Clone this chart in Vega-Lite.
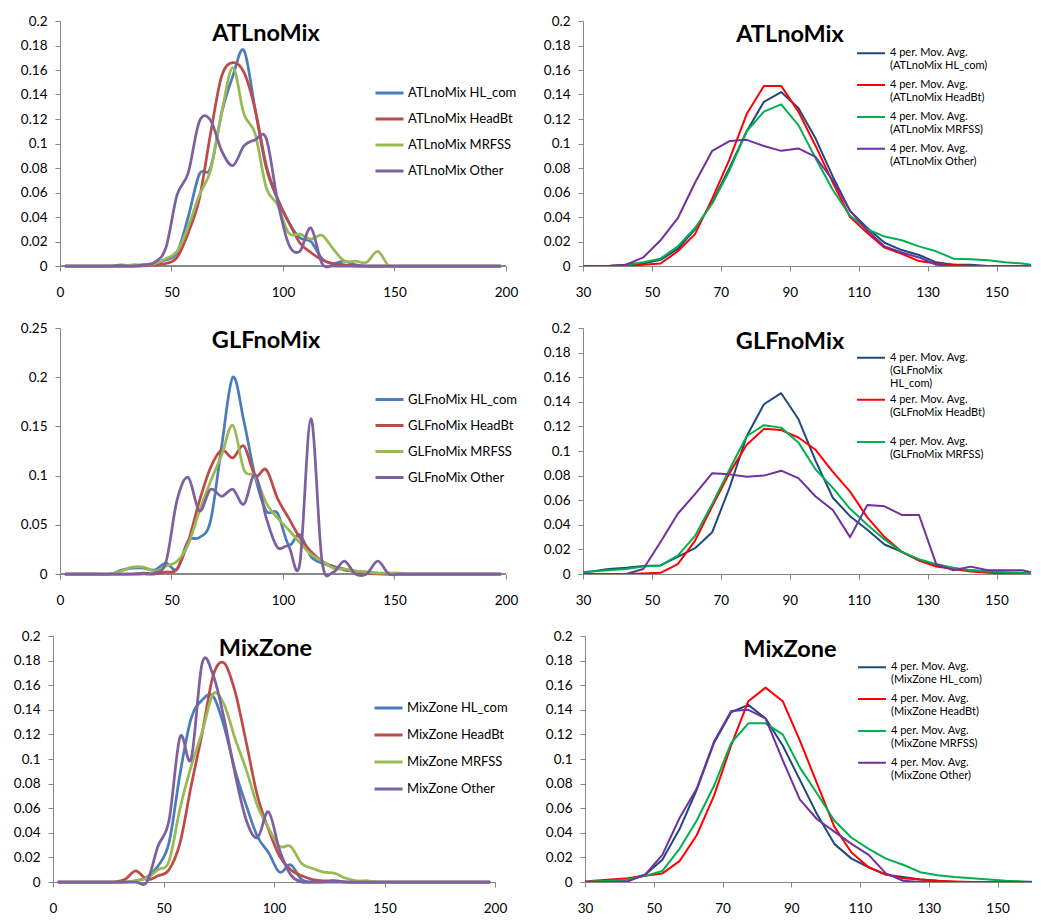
{
"$schema": "https://vega.github.io/schema/vega-lite/v6.json",
"padding": {"left": 13, "top": 14, "right": 0, "bottom": 0},
"background": "white",
"config": {
  "font": "Lato",
  "view": {"stroke": null},
  "axis": {"grid": false, "domainColor": "#868686", "tickColor": "#868686", "labelColor": "black", "labelFont": "Lato", "labelFontSize": 13.5, "tickSize": 5, "labelFlush": false, "labelOverlap": false, "domainWidth": 1, "tickWidth": 1},
  "axisX": {"labelPadding": 14},
  "axisY": {"labelPadding": 8},
  "legend": {"orient": "none", "padding": 0, "symbolType": "stroke", "labelFont": "Lato", "labelColor": "black", "labelLimit": 300},
  "title": {"font": "Lato", "fontSize": 23.5, "fontWeight": "bold", "color": "black", "anchor": "middle", "frame": "group", "baseline": "alphabetic"}
},
"datasets": {
  "atlL": [
    {"x":2.5,"HL_com":0,"HeadBt":0,"MRFSS":0,"Other":0},
    {"x":12.5,"HL_com":0,"HeadBt":0,"MRFSS":0,"Other":0},
    {"x":22.5,"HL_com":0,"HeadBt":0,"MRFSS":0,"Other":0},
    {"x":27.5,"HL_com":0.001,"HeadBt":0,"MRFSS":0,"Other":0},
    {"x":32.5,"HL_com":0,"HeadBt":0,"MRFSS":0.001,"Other":0},
    {"x":37.5,"HL_com":0.001,"HeadBt":0,"MRFSS":0.001,"Other":0.001},
    {"x":42.5,"HL_com":0.002,"HeadBt":0.001,"MRFSS":0.002,"Other":0.003},
    {"x":47.5,"HL_com":0.005,"HeadBt":0.002,"MRFSS":0.006,"Other":0.015},
    {"x":52.5,"HL_com":0.011,"HeadBt":0.007,"MRFSS":0.012,"Other":0.058},
    {"x":57.5,"HL_com":0.04,"HeadBt":0.027,"MRFSS":0.032,"Other":0.076},
    {"x":62.5,"HL_com":0.075,"HeadBt":0.055,"MRFSS":0.058,"Other":0.118},
    {"x":67.5,"HL_com":0.08,"HeadBt":0.108,"MRFSS":0.078,"Other":0.119},
    {"x":72.5,"HL_com":0.125,"HeadBt":0.155,"MRFSS":0.125,"Other":0.094},
    {"x":77.5,"HL_com":0.155,"HeadBt":0.166,"MRFSS":0.162,"Other":0.082},
    {"x":82.5,"HL_com":0.176,"HeadBt":0.158,"MRFSS":0.124,"Other":0.098},
    {"x":87.5,"HL_com":0.128,"HeadBt":0.128,"MRFSS":0.108,"Other":0.103},
    {"x":92.5,"HL_com":0.08,"HeadBt":0.082,"MRFSS":0.064,"Other":0.104},
    {"x":97.5,"HL_com":0.055,"HeadBt":0.055,"MRFSS":0.05,"Other":0.054},
    {"x":102.5,"HL_com":0.036,"HeadBt":0.036,"MRFSS":0.027,"Other":0.018},
    {"x":107.5,"HL_com":0.023,"HeadBt":0.019,"MRFSS":0.026,"Other":0.012},
    {"x":112.5,"HL_com":0.02,"HeadBt":0.011,"MRFSS":0.022,"Other":0.031},
    {"x":117.5,"HL_com":0.006,"HeadBt":0.005,"MRFSS":0.025,"Other":0.002},
    {"x":122.5,"HL_com":0.002,"HeadBt":0.002,"MRFSS":0.014,"Other":0},
    {"x":127.5,"HL_com":0.004,"HeadBt":0.001,"MRFSS":0.004,"Other":0},
    {"x":132.5,"HL_com":0.001,"HeadBt":0,"MRFSS":0.004,"Other":0},
    {"x":137.5,"HL_com":0,"HeadBt":0,"MRFSS":0.003,"Other":0},
    {"x":142.5,"HL_com":0,"HeadBt":0,"MRFSS":0.012,"Other":0},
    {"x":147.5,"HL_com":0,"HeadBt":0,"MRFSS":0,"Other":0},
    {"x":152.5,"HL_com":0,"HeadBt":0,"MRFSS":0,"Other":0},
    {"x":157.5,"HL_com":0,"HeadBt":0,"MRFSS":0,"Other":0},
    {"x":167.5,"HL_com":0,"HeadBt":0,"MRFSS":0,"Other":0},
    {"x":177.5,"HL_com":0,"HeadBt":0,"MRFSS":0,"Other":0},
    {"x":187.5,"HL_com":0,"HeadBt":0,"MRFSS":0,"Other":0},
    {"x":197.5,"HL_com":0,"HeadBt":0,"MRFSS":0,"Other":0}
  ],
  "glfL": [
    {"x":2.5,"HL_com":0,"HeadBt":0,"MRFSS":0,"Other":0},
    {"x":12.5,"HL_com":0,"HeadBt":0,"MRFSS":0,"Other":0},
    {"x":22.5,"HL_com":0,"HeadBt":0,"MRFSS":0,"Other":0},
    {"x":27.5,"HL_com":0.004,"HeadBt":0,"MRFSS":0.003,"Other":0},
    {"x":32.5,"HL_com":0.006,"HeadBt":0,"MRFSS":0.007,"Other":0},
    {"x":37.5,"HL_com":0.006,"HeadBt":0.001,"MRFSS":0.007,"Other":0},
    {"x":42.5,"HL_com":0.004,"HeadBt":0,"MRFSS":0.003,"Other":0.001},
    {"x":47.5,"HL_com":0.011,"HeadBt":0.002,"MRFSS":0.008,"Other":0.012},
    {"x":52.5,"HL_com":0.005,"HeadBt":0.005,"MRFSS":0.013,"Other":0.075},
    {"x":57.5,"HL_com":0.034,"HeadBt":0.033,"MRFSS":0.03,"Other":0.098},
    {"x":62.5,"HL_com":0.037,"HeadBt":0.074,"MRFSS":0.064,"Other":0.064},
    {"x":67.5,"HL_com":0.054,"HeadBt":0.108,"MRFSS":0.094,"Other":0.086},
    {"x":72.5,"HL_com":0.13,"HeadBt":0.126,"MRFSS":0.121,"Other":0.079},
    {"x":77.5,"HL_com":0.2,"HeadBt":0.118,"MRFSS":0.151,"Other":0.086},
    {"x":82.5,"HL_com":0.155,"HeadBt":0.13,"MRFSS":0.106,"Other":0.071},
    {"x":87.5,"HL_com":0.099,"HeadBt":0.1,"MRFSS":0.099,"Other":0.101},
    {"x":92.5,"HL_com":0.064,"HeadBt":0.106,"MRFSS":0.072,"Other":0.057},
    {"x":97.5,"HL_com":0.062,"HeadBt":0.077,"MRFSS":0.057,"Other":0.027},
    {"x":102.5,"HL_com":0.03,"HeadBt":0.057,"MRFSS":0.045,"Other":0.028},
    {"x":107.5,"HL_com":0.04,"HeadBt":0.037,"MRFSS":0.032,"Other":0.01},
    {"x":112.5,"HL_com":0.018,"HeadBt":0.023,"MRFSS":0.02,"Other":0.158},
    {"x":117.5,"HL_com":0.011,"HeadBt":0.013,"MRFSS":0.013,"Other":0.013},
    {"x":122.5,"HL_com":0.008,"HeadBt":0.007,"MRFSS":0.006,"Other":0.002},
    {"x":127.5,"HL_com":0.004,"HeadBt":0.005,"MRFSS":0.005,"Other":0.013},
    {"x":132.5,"HL_com":0.003,"HeadBt":0.002,"MRFSS":0.003,"Other":0},
    {"x":137.5,"HL_com":0.002,"HeadBt":0.001,"MRFSS":0.002,"Other":0},
    {"x":142.5,"HL_com":0.001,"HeadBt":0,"MRFSS":0.001,"Other":0.013},
    {"x":147.5,"HL_com":0,"HeadBt":0,"MRFSS":0.001,"Other":0},
    {"x":152.5,"HL_com":0,"HeadBt":0,"MRFSS":0.001,"Other":0},
    {"x":157.5,"HL_com":0,"HeadBt":0,"MRFSS":0,"Other":0},
    {"x":167.5,"HL_com":0,"HeadBt":0,"MRFSS":0,"Other":0},
    {"x":177.5,"HL_com":0,"HeadBt":0,"MRFSS":0,"Other":0},
    {"x":187.5,"HL_com":0,"HeadBt":0,"MRFSS":0,"Other":0},
    {"x":197.5,"HL_com":0,"HeadBt":0,"MRFSS":0,"Other":0}
  ],
  "mixL": [
    {"x":2.5,"HL_com":0,"HeadBt":0,"MRFSS":0,"Other":0},
    {"x":12.5,"HL_com":0,"HeadBt":0,"MRFSS":0,"Other":0},
    {"x":22.5,"HL_com":0,"HeadBt":0,"MRFSS":0,"Other":0},
    {"x":27.5,"HL_com":0,"HeadBt":0,"MRFSS":0,"Other":0},
    {"x":32.5,"HL_com":0,"HeadBt":0.002,"MRFSS":0,"Other":0},
    {"x":37.5,"HL_com":0.001,"HeadBt":0.009,"MRFSS":0.001,"Other":0},
    {"x":42.5,"HL_com":0.004,"HeadBt":0.002,"MRFSS":0.003,"Other":0},
    {"x":47.5,"HL_com":0.013,"HeadBt":0.005,"MRFSS":0.01,"Other":0.029},
    {"x":52.5,"HL_com":0.032,"HeadBt":0.01,"MRFSS":0.017,"Other":0.05},
    {"x":57.5,"HL_com":0.088,"HeadBt":0.032,"MRFSS":0.06,"Other":0.118},
    {"x":62.5,"HL_com":0.133,"HeadBt":0.078,"MRFSS":0.094,"Other":0.1},
    {"x":67.5,"HL_com":0.148,"HeadBt":0.121,"MRFSS":0.122,"Other":0.178},
    {"x":72.5,"HL_com":0.151,"HeadBt":0.168,"MRFSS":0.153,"Other":0.168},
    {"x":77.5,"HL_com":0.126,"HeadBt":0.178,"MRFSS":0.144,"Other":0.132},
    {"x":82.5,"HL_com":0.09,"HeadBt":0.154,"MRFSS":0.116,"Other":0.087},
    {"x":87.5,"HL_com":0.062,"HeadBt":0.113,"MRFSS":0.091,"Other":0.05},
    {"x":92.5,"HL_com":0.037,"HeadBt":0.07,"MRFSS":0.062,"Other":0.036},
    {"x":97.5,"HL_com":0.024,"HeadBt":0.043,"MRFSS":0.044,"Other":0.057},
    {"x":102.5,"HL_com":0.008,"HeadBt":0.021,"MRFSS":0.029,"Other":0.026},
    {"x":107.5,"HL_com":0.014,"HeadBt":0.01,"MRFSS":0.029,"Other":0.006},
    {"x":112.5,"HL_com":0.002,"HeadBt":0.005,"MRFSS":0.015,"Other":0},
    {"x":117.5,"HL_com":0,"HeadBt":0.002,"MRFSS":0.011,"Other":0},
    {"x":122.5,"HL_com":0,"HeadBt":0.001,"MRFSS":0.008,"Other":0},
    {"x":127.5,"HL_com":0,"HeadBt":0.001,"MRFSS":0.007,"Other":0.001},
    {"x":132.5,"HL_com":0,"HeadBt":0,"MRFSS":0.003,"Other":0},
    {"x":137.5,"HL_com":0,"HeadBt":0,"MRFSS":0.001,"Other":0},
    {"x":142.5,"HL_com":0,"HeadBt":0,"MRFSS":0.001,"Other":0},
    {"x":147.5,"HL_com":0,"HeadBt":0,"MRFSS":0,"Other":0},
    {"x":157.5,"HL_com":0,"HeadBt":0,"MRFSS":0,"Other":0},
    {"x":167.5,"HL_com":0,"HeadBt":0,"MRFSS":0,"Other":0},
    {"x":177.5,"HL_com":0,"HeadBt":0,"MRFSS":0,"Other":0},
    {"x":187.5,"HL_com":0,"HeadBt":0,"MRFSS":0,"Other":0},
    {"x":197.5,"HL_com":0,"HeadBt":0,"MRFSS":0,"Other":0}
  ],
  "atlR": [
    {"x":27.5,"HL_com":0,"HeadBt":0,"MRFSS":0,"Other":0},
    {"x":32.5,"HL_com":0,"HeadBt":0,"MRFSS":0,"Other":0},
    {"x":37.5,"HL_com":0,"HeadBt":0,"MRFSS":0,"Other":0},
    {"x":42.5,"HL_com":0.001,"HeadBt":0,"MRFSS":0.001,"Other":0.001},
    {"x":47.5,"HL_com":0.002,"HeadBt":0.001,"MRFSS":0.003,"Other":0.007},
    {"x":52.5,"HL_com":0.005,"HeadBt":0.002,"MRFSS":0.006,"Other":0.021},
    {"x":57.5,"HL_com":0.014,"HeadBt":0.012,"MRFSS":0.016,"Other":0.039},
    {"x":62.5,"HL_com":0.03,"HeadBt":0.026,"MRFSS":0.031,"Other":0.068},
    {"x":67.5,"HL_com":0.052,"HeadBt":0.055,"MRFSS":0.051,"Other":0.094},
    {"x":72.5,"HL_com":0.08,"HeadBt":0.087,"MRFSS":0.078,"Other":0.102},
    {"x":77.5,"HL_com":0.11,"HeadBt":0.124,"MRFSS":0.11,"Other":0.103},
    {"x":82.5,"HL_com":0.134,"HeadBt":0.147,"MRFSS":0.126,"Other":0.098},
    {"x":87.5,"HL_com":0.142,"HeadBt":0.147,"MRFSS":0.132,"Other":0.094},
    {"x":92.5,"HL_com":0.129,"HeadBt":0.126,"MRFSS":0.115,"Other":0.096},
    {"x":97.5,"HL_com":0.104,"HeadBt":0.098,"MRFSS":0.088,"Other":0.089},
    {"x":102.5,"HL_com":0.073,"HeadBt":0.068,"MRFSS":0.062,"Other":0.07},
    {"x":107.5,"HL_com":0.045,"HeadBt":0.04,"MRFSS":0.041,"Other":0.045},
    {"x":112.5,"HL_com":0.031,"HeadBt":0.027,"MRFSS":0.03,"Other":0.029},
    {"x":117.5,"HL_com":0.019,"HeadBt":0.015,"MRFSS":0.024,"Other":0.016},
    {"x":122.5,"HL_com":0.013,"HeadBt":0.01,"MRFSS":0.021,"Other":0.011},
    {"x":127.5,"HL_com":0.009,"HeadBt":0.004,"MRFSS":0.016,"Other":0.007},
    {"x":132.5,"HL_com":0.003,"HeadBt":0.002,"MRFSS":0.012,"Other":0.001},
    {"x":137.5,"HL_com":0.001,"HeadBt":0.001,"MRFSS":0.006,"Other":0},
    {"x":142.5,"HL_com":0.001,"HeadBt":0,"MRFSS":0.0055,"Other":0},
    {"x":147.5,"HL_com":0,"HeadBt":0,"MRFSS":0.0046,"Other":0},
    {"x":152.5,"HL_com":0,"HeadBt":0,"MRFSS":0.003,"Other":0},
    {"x":157.5,"HL_com":0,"HeadBt":0,"MRFSS":0.002,"Other":0},
    {"x":162.5,"HL_com":0,"HeadBt":0,"MRFSS":0,"Other":0}
  ],
  "glfR": [
    {"x":27.5,"HL_com":0.001,"HeadBt":0,"MRFSS":0.001,"Other":0},
    {"x":32.5,"HL_com":0.002,"HeadBt":0,"MRFSS":0.002,"Other":0},
    {"x":37.5,"HL_com":0.004,"HeadBt":0,"MRFSS":0.003,"Other":0},
    {"x":42.5,"HL_com":0.005,"HeadBt":0,"MRFSS":0.004,"Other":0},
    {"x":47.5,"HL_com":0.0065,"HeadBt":0.0005,"MRFSS":0.006,"Other":0.004},
    {"x":52.5,"HL_com":0.007,"HeadBt":0.001,"MRFSS":0.007,"Other":0.026},
    {"x":57.5,"HL_com":0.014,"HeadBt":0.008,"MRFSS":0.015,"Other":0.049},
    {"x":62.5,"HL_com":0.021,"HeadBt":0.027,"MRFSS":0.031,"Other":0.065},
    {"x":67.5,"HL_com":0.034,"HeadBt":0.055,"MRFSS":0.057,"Other":0.082},
    {"x":72.5,"HL_com":0.07,"HeadBt":0.082,"MRFSS":0.085,"Other":0.081},
    {"x":77.5,"HL_com":0.112,"HeadBt":0.105,"MRFSS":0.112,"Other":0.079},
    {"x":82.5,"HL_com":0.138,"HeadBt":0.118,"MRFSS":0.121,"Other":0.08},
    {"x":87.5,"HL_com":0.147,"HeadBt":0.117,"MRFSS":0.119,"Other":0.084},
    {"x":92.5,"HL_com":0.126,"HeadBt":0.111,"MRFSS":0.107,"Other":0.078},
    {"x":97.5,"HL_com":0.092,"HeadBt":0.101,"MRFSS":0.085,"Other":0.063},
    {"x":102.5,"HL_com":0.062,"HeadBt":0.083,"MRFSS":0.07,"Other":0.052},
    {"x":107.5,"HL_com":0.047,"HeadBt":0.067,"MRFSS":0.053,"Other":0.03},
    {"x":112.5,"HL_com":0.036,"HeadBt":0.046,"MRFSS":0.04,"Other":0.056},
    {"x":117.5,"HL_com":0.024,"HeadBt":0.03,"MRFSS":0.028,"Other":0.055},
    {"x":122.5,"HL_com":0.018,"HeadBt":0.018,"MRFSS":0.018,"Other":0.048},
    {"x":127.5,"HL_com":0.011,"HeadBt":0.011,"MRFSS":0.012,"Other":0.048},
    {"x":132.5,"HL_com":0.007,"HeadBt":0.006,"MRFSS":0.008,"Other":0.008},
    {"x":137.5,"HL_com":0.004,"HeadBt":0.004,"MRFSS":0.005,"Other":0.003},
    {"x":142.5,"HL_com":0.003,"HeadBt":0.002,"MRFSS":0.003,"Other":0.006},
    {"x":147.5,"HL_com":0.002,"HeadBt":0.001,"MRFSS":0.002,"Other":0.003},
    {"x":152.5,"HL_com":0.001,"HeadBt":0.0005,"MRFSS":0.0015,"Other":0.003},
    {"x":157.5,"HL_com":0.0005,"HeadBt":0,"MRFSS":0.001,"Other":0.003},
    {"x":162.5,"HL_com":0,"HeadBt":0,"MRFSS":0,"Other":0}
  ],
  "mixR": [
    {"x":27.5,"HL_com":0,"HeadBt":0,"MRFSS":0,"Other":0},
    {"x":32.5,"HL_com":0,"HeadBt":0.001,"MRFSS":0.0005,"Other":0},
    {"x":37.5,"HL_com":0.001,"HeadBt":0.002,"MRFSS":0.001,"Other":0},
    {"x":42.5,"HL_com":0.002,"HeadBt":0.003,"MRFSS":0.002,"Other":0.0005},
    {"x":47.5,"HL_com":0.006,"HeadBt":0.005,"MRFSS":0.005,"Other":0.006},
    {"x":52.5,"HL_com":0.018,"HeadBt":0.007,"MRFSS":0.009,"Other":0.022},
    {"x":57.5,"HL_com":0.043,"HeadBt":0.017,"MRFSS":0.027,"Other":0.052},
    {"x":62.5,"HL_com":0.075,"HeadBt":0.038,"MRFSS":0.05,"Other":0.076},
    {"x":67.5,"HL_com":0.113,"HeadBt":0.07,"MRFSS":0.078,"Other":0.114},
    {"x":72.5,"HL_com":0.138,"HeadBt":0.111,"MRFSS":0.113,"Other":0.139},
    {"x":77.5,"HL_com":0.144,"HeadBt":0.147,"MRFSS":0.129,"Other":0.14},
    {"x":82.5,"HL_com":0.133,"HeadBt":0.158,"MRFSS":0.129,"Other":0.133},
    {"x":87.5,"HL_com":0.111,"HeadBt":0.147,"MRFSS":0.12,"Other":0.099},
    {"x":92.5,"HL_com":0.083,"HeadBt":0.115,"MRFSS":0.093,"Other":0.067},
    {"x":97.5,"HL_com":0.055,"HeadBt":0.08,"MRFSS":0.072,"Other":0.051},
    {"x":102.5,"HL_com":0.031,"HeadBt":0.045,"MRFSS":0.05,"Other":0.041},
    {"x":107.5,"HL_com":0.019,"HeadBt":0.024,"MRFSS":0.036,"Other":0.031},
    {"x":112.5,"HL_com":0.012,"HeadBt":0.012,"MRFSS":0.027,"Other":0.022},
    {"x":117.5,"HL_com":0.006,"HeadBt":0.006,"MRFSS":0.019,"Other":0.007},
    {"x":122.5,"HL_com":0.004,"HeadBt":0.003,"MRFSS":0.014,"Other":0.001},
    {"x":127.5,"HL_com":0.002,"HeadBt":0.002,"MRFSS":0.008,"Other":0},
    {"x":132.5,"HL_com":0.001,"HeadBt":0.001,"MRFSS":0.0055,"Other":0},
    {"x":137.5,"HL_com":0,"HeadBt":0.0005,"MRFSS":0.004,"Other":0},
    {"x":142.5,"HL_com":0,"HeadBt":0,"MRFSS":0.003,"Other":0},
    {"x":147.5,"HL_com":0,"HeadBt":0,"MRFSS":0.002,"Other":0},
    {"x":152.5,"HL_com":0,"HeadBt":0,"MRFSS":0.001,"Other":0},
    {"x":157.5,"HL_com":0,"HeadBt":0,"MRFSS":0.0005,"Other":0},
    {"x":162.5,"HL_com":0,"HeadBt":0,"MRFSS":0,"Other":0}
  ]
},
"spacing": 22,
"resolve": {"scale": {"color": "independent"}, "legend": {"color": "independent"}},
"vconcat": [
  {
    "spacing": 25,
    "resolve": {"scale": {"color": "independent"}, "legend": {"color": "independent"}},
    "hconcat": [
      {
        "width": 453, "height": 245,
        "title": {"text": "ATLnoMix", "dx": -13.5, "offset": -31.5},
        "data": {"name": "atlL"},
        "layer": [
          {
            "mark": {"type": "rule", "color": "#868686", "strokeWidth": 1},
            "encoding": {
              "x": {"datum": 0, "type": "quantitative", "scale": {"domain": [-3.135,200], "nice": false}, "axis": {"title": null, "values": [0,50,100,150,200], "format": "d", "domain": false}},
              "x2": {"datum": 200},
              "y": {"datum": 0, "type": "quantitative", "scale": {"domain": [0,0.2], "nice": false}, "axis": {"title": null, "values": [0,0.02,0.04,0.06,0.08,0.1,0.12,0.14,0.16,0.18,0.2], "format": "~g", "offset": -7, "minExtent": 0}}
            }
          },
          {
            "transform": [{"fold": ["HL_com","HeadBt","MRFSS","Other"], "as": ["s","y"]}],
            "mark": {"type": "line", "interpolate": "cardinal", "strokeWidth": 2.75, "strokeCap": "round", "strokeJoin": "round"},
            "encoding": {
              "x": {"field": "x", "type": "quantitative", "scale": {"domain": [-3.135,200], "nice": false}, "axis": {"title": null, "values": [0,50,100,150,200], "format": "d", "domain": false}},
              "y": {"field": "y", "type": "quantitative", "scale": {"domain": [0,0.2], "nice": false}, "axis": {"title": null, "values": [0,0.02,0.04,0.06,0.08,0.1,0.12,0.14,0.16,0.18,0.2], "format": "~g", "offset": -7, "minExtent": 0}},
              "color": {"field": "s", "type": "nominal", "scale": {"domain": ["HL_com","HeadBt","MRFSS","Other"], "range": ["#4A7EBB","#BE4B48","#98B954","#7D60A0"]},
                "legend": {"title": null, "labelExpr": "'ATLnoMix ' + datum.label", "legendX": 321, "legendY": 65.5, "symbolSize": 784, "symbolStrokeWidth": 3, "labelFontSize": 13, "clipHeight": 13, "rowPadding": 12, "labelOffset": 3}}
            }
          }
        ]
      },
      {
        "width": 448, "height": 245,
        "title": {"text": "ATLnoMix", "dx": -17, "offset": -32.3},
        "data": {"name": "atlR"},
        "transform": [{"fold": ["HL_com","HeadBt","MRFSS","Other"], "as": ["s","y"]}],
        "mark": {"type": "line", "strokeWidth": 2, "clip": true, "strokeJoin": "round"},
        "encoding": {
          "x": {"field": "x", "type": "quantitative", "scale": {"domain": [30,160], "nice": false, "zero": false}, "axis": {"title": null, "values": [30,50,70,90,110,130,150], "format": "d"}},
          "y": {"field": "y", "type": "quantitative", "scale": {"domain": [0,0.2], "nice": false}, "axis": {"title": null, "values": [0,0.02,0.04,0.06,0.08,0.1,0.12,0.14,0.16,0.18,0.2], "format": "~g", "minExtent": 40, "maxExtent": 40}},
          "color": {"field": "s", "type": "nominal", "scale": {"domain": ["HL_com","HeadBt","MRFSS","Other"], "range": ["#1F497D","#FF0000","#00B050","#7030A0"]},
            "legend": {"title": null, "labelExpr": "['4 per. Mov. Avg.', '(ATLnoMix ' + datum.label + ')']", "legendX": 273, "legendY": 25.8, "symbolSize": 784, "symbolStrokeWidth": 2, "labelFontSize": 11, "clipHeight": 13, "rowPadding": 6.8, "labelOffset": 4}}
        }
      }
    ]
  },
  {
    "spacing": 25,
    "resolve": {"scale": {"color": "independent"}, "legend": {"color": "independent"}},
    "hconcat": [
      {
        "width": 453, "height": 246,
        "title": {"text": "GLFnoMix", "dx": -13.5, "offset": -31.7},
        "data": {"name": "glfL"},
        "layer": [
          {
            "mark": {"type": "rule", "color": "#868686", "strokeWidth": 1},
            "encoding": {
              "x": {"datum": 0, "type": "quantitative", "scale": {"domain": [-3.135,200], "nice": false}, "axis": {"title": null, "values": [0,50,100,150,200], "format": "d", "domain": false}},
              "x2": {"datum": 200},
              "y": {"datum": 0, "type": "quantitative", "scale": {"domain": [0,0.25], "nice": false}, "axis": {"title": null, "values": [0,0.05,0.1,0.15,0.2,0.25], "format": "~g", "offset": -7, "minExtent": 0}}
            }
          },
          {
            "transform": [{"fold": ["HL_com","HeadBt","MRFSS","Other"], "as": ["s","y"]}],
            "mark": {"type": "line", "interpolate": "cardinal", "strokeWidth": 2.75, "strokeCap": "round", "strokeJoin": "round"},
            "encoding": {
              "x": {"field": "x", "type": "quantitative", "scale": {"domain": [-3.135,200], "nice": false}, "axis": {"title": null, "values": [0,50,100,150,200], "format": "d", "domain": false}},
              "y": {"field": "y", "type": "quantitative", "scale": {"domain": [0,0.25], "nice": false}, "axis": {"title": null, "values": [0,0.05,0.1,0.15,0.2,0.25], "format": "~g", "offset": -7, "minExtent": 0}},
              "color": {"field": "s", "type": "nominal", "scale": {"domain": ["HL_com","HeadBt","MRFSS","Other"], "range": ["#4A7EBB","#BE4B48","#98B954","#7D60A0"]},
                "legend": {"title": null, "labelExpr": "'GLFnoMix ' + datum.label", "legendX": 321, "legendY": 65, "symbolSize": 784, "symbolStrokeWidth": 3, "labelFontSize": 13, "clipHeight": 13, "rowPadding": 12, "labelOffset": 3}}
            }
          }
        ]
      },
      {
        "width": 448, "height": 246,
        "title": {"text": "GLFnoMix", "dx": -17, "offset": -32},
        "data": {"name": "glfR"},
        "transform": [{"fold": ["HL_com","HeadBt","MRFSS","Other"], "as": ["s","y"]}],
        "encoding": {
          "x": {"field": "x", "type": "quantitative", "scale": {"domain": [30,160], "nice": false, "zero": false}, "axis": {"title": null, "values": [30,50,70,90,110,130,150], "format": "d"}},
          "y": {"field": "y", "type": "quantitative", "scale": {"domain": [0,0.2], "nice": false}, "axis": {"title": null, "values": [0,0.02,0.04,0.06,0.08,0.1,0.12,0.14,0.16,0.18,0.2], "format": "~g", "minExtent": 40, "maxExtent": 40}}
        },
        "layer": [
          {
            "transform": [{"filter": "datum.s != 'Other'"}],
            "mark": {"type": "line", "strokeWidth": 2, "clip": true, "strokeJoin": "round"},
            "encoding": {
              "color": {"field": "s", "type": "nominal", "scale": {"domain": ["HL_com","HeadBt","MRFSS"], "range": ["#1F497D","#FF0000","#00B050"]},
                "legend": {"title": null, "labelExpr": "datum.label == 'HL_com' ? ['4 per. Mov. Avg.', '(GLFnoMix', 'HL_com)'] : datum.label == 'HeadBt' ? ['4 per. Mov. Avg.', '(GLFnoMix HeadBt)', ' '] : ['4 per. Mov. Avg.', '(GLFnoMix MRFSS)']", "legendX": 273, "legendY": 23.2, "symbolSize": 784, "symbolStrokeWidth": 2, "labelFontSize": 11, "clipHeight": 13, "rowPadding": 4.1, "labelOffset": 4}}
            }
          },
          {
            "transform": [{"filter": "datum.s == 'Other'"}],
            "mark": {"type": "line", "strokeWidth": 2, "clip": true, "strokeJoin": "round", "color": "#7030A0"}
          }
        ]
      }
    ]
  },
  {
    "spacing": 37,
    "resolve": {"scale": {"color": "independent"}, "legend": {"color": "independent"}},
    "hconcat": [
      {
        "width": 442, "height": 246,
        "title": {"text": "MixZone", "dx": -8.5, "offset": -31.5},
        "data": {"name": "mixL"},
        "transform": [{"fold": ["HL_com","HeadBt","MRFSS","Other"], "as": ["s","y"]}],
        "mark": {"type": "line", "interpolate": "cardinal", "strokeWidth": 2.75, "strokeCap": "round", "strokeJoin": "round"},
        "encoding": {
          "x": {"field": "x", "type": "quantitative", "scale": {"domain": [0,200], "nice": false}, "axis": {"title": null, "values": [0,50,100,150,200], "format": "d"}},
          "y": {"field": "y", "type": "quantitative", "scale": {"domain": [0,0.2], "nice": false}, "axis": {"title": null, "values": [0,0.02,0.04,0.06,0.08,0.1,0.12,0.14,0.16,0.18,0.2], "format": "~g", "minExtent": 0}},
          "color": {"field": "s", "type": "nominal", "scale": {"domain": ["HL_com","HeadBt","MRFSS","Other"], "range": ["#4A7EBB","#BE4B48","#98B954","#7D60A0"]},
            "legend": {"title": null, "labelExpr": "'MixZone ' + datum.label", "legendX": 320, "legendY": 65.5, "symbolSize": 784, "symbolStrokeWidth": 3, "labelFontSize": 13, "clipHeight": 13, "rowPadding": 13, "labelOffset": 3}}
        }
      },
      {
        "width": 447, "height": 246,
        "title": {"text": "MixZone", "dx": -18.5, "offset": -32.3},
        "data": {"name": "mixR"},
        "transform": [{"fold": ["HL_com","HeadBt","MRFSS","Other"], "as": ["s","y"]}],
        "mark": {"type": "line", "strokeWidth": 2, "clip": true, "strokeJoin": "round"},
        "encoding": {
          "x": {"field": "x", "type": "quantitative", "scale": {"domain": [30,160], "nice": false, "zero": false}, "axis": {"title": null, "values": [30,50,70,90,110,130,150], "format": "d"}},
          "y": {"field": "y", "type": "quantitative", "scale": {"domain": [0,0.2], "nice": false}, "axis": {"title": null, "values": [0,0.02,0.04,0.06,0.08,0.1,0.12,0.14,0.16,0.18,0.2], "format": "~g", "minExtent": 40, "maxExtent": 40}},
          "color": {"field": "s", "type": "nominal", "scale": {"domain": ["HL_com","HeadBt","MRFSS","Other"], "range": ["#1F497D","#FF0000","#00B050","#7030A0"]},
            "legend": {"title": null, "labelExpr": "['4 per. Mov. Avg.', '(MixZone ' + datum.label + ')']", "legendX": 272, "legendY": 24.8, "symbolSize": 784, "symbolStrokeWidth": 2, "labelFontSize": 11, "clipHeight": 13, "rowPadding": 6.8, "labelOffset": 4}}
        }
      }
    ]
  }
]
}
